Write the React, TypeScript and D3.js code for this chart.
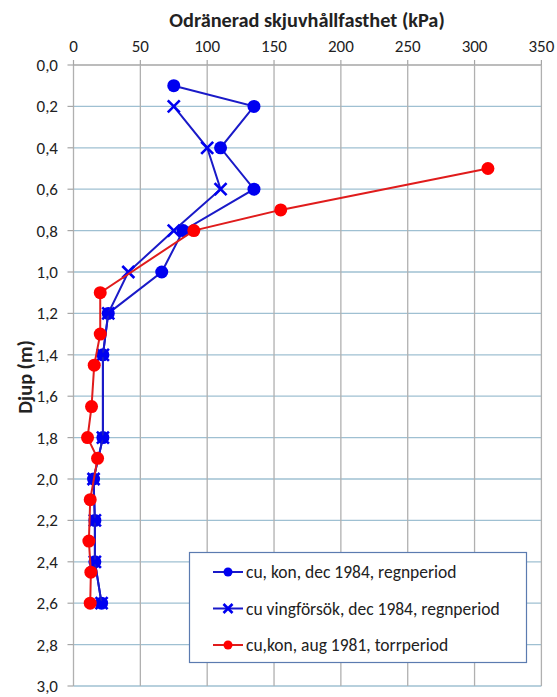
import React from "react";
import * as d3 from "d3";

const W = 557;
const H = 697;

const xTicks = [0, 50, 100, 150, 200, 250, 300, 350];
const yTicks = [0, 0.2, 0.4, 0.6, 0.8, 1.0, 1.2, 1.4, 1.6, 1.8, 2.0, 2.2, 2.4, 2.6, 2.8, 3.0];

// cu, kon, dec 1984, regnperiod
const konDepth = [0.1, 0.2, 0.4, 0.6, 0.8, 1.0, 1.2, 1.4, 1.8, 2.0, 2.2, 2.4, 2.6];
const konValue = [75, 135, 110, 135, 82, 66, 26, 22, 22, 15, 16, 16, 21];

// cu vingförsök, dec 1984, regnperiod
const vingDepth = [0.2, 0.4, 0.6, 0.8, 1.0, 1.2, 1.4, 1.8, 2.0, 2.2, 2.4, 2.6];
const vingValue = [75, 100, 110, 75, 41, 26, 22, 22, 15, 16, 16, 21];

// cu,kon, aug 1981, torrperiod
const augDepth = [0.5, 0.7, 0.8, 1.1, 1.3, 1.45, 1.65, 1.8, 1.9, 2.1, 2.3, 2.45, 2.6];
const augValue = [310, 155, 90, 20, 20, 15.5, 13.5, 10.5, 18, 12.5, 11.5, 13, 12.5];

const legendLabels = [
  "cu, kon, dec 1984, regnperiod",
  "cu vingförsök, dec 1984, regnperiod",
  "cu,kon, aug 1981, torrperiod",
];

const FONT = "Carlito, Lato, 'Open Sans', sans-serif";
const BLUE = "#0000f0";
const BLUE_LINE = "#1a1ac8";
const RED = "#ff0000";
const RED_LINE = "#e01c1c";

const x = d3.scaleLinear().domain([0, 350]).range([73.5, 541.4]);
const y = d3.scaleLinear().domain([0, 3]).range([65, 686]);

function XMark({ cx, cy, s = 6, color }: { cx: number; cy: number; s?: number; color: string }) {
  return (
    <g stroke={color} strokeWidth={2.6}>
      <line x1={cx - s} y1={cy - s} x2={cx + s} y2={cy + s} />
      <line x1={cx - s} y1={cy + s} x2={cx + s} y2={cy - s} />
    </g>
  );
}

export default function App() {
  const line = d3
    .line<[number, number]>()
    .x((d) => x(d[0]))
    .y((d) => y(d[1]));
  const kon = konValue.map((v, i) => [v, konDepth[i]] as [number, number]);
  const ving = vingValue.map((v, i) => [v, vingDepth[i]] as [number, number]);
  const aug = augValue.map((v, i) => [v, augDepth[i]] as [number, number]);

  const lx = 189.5, ly = 552.5, lw = 337, lh = 110;
  const rowY = [572, 608.5, 645];

  return (
    <svg
      width={W}
      height={H}
      style={{ position: "absolute", left: 0, top: 0, background: "#fff" }}
      fontFamily={FONT}
    >
      <rect width={W} height={H} fill="#fff" />
      {/* horizontal gridlines */}
      {yTicks.map((t) => (
        <line key={"h" + t} x1={x(0)} x2={x(350)} y1={y(t)} y2={y(t)} stroke={t === 0 ? "#a6a6a6" : "#9fc0d2"} strokeWidth={1.3} />
      ))}
      {/* vertical gridlines */}
      {xTicks.map((t) => (
        <line key={"v" + t} x1={x(t)} x2={x(t)} y1={y(0)} y2={y(3)} stroke="#b0b0b0" strokeWidth={1.3} />
      ))}
      {/* y ticks */}
      {yTicks.map((t) => (
        <g key={"yt" + t}>
          <line x1={x(0) - 6} x2={x(0)} y1={y(t)} y2={y(t)} stroke="#a6a6a6" strokeWidth={1.2} />
          <text x={58} y={y(t)} dy="0.35em" textAnchor="end" fontSize={17} fill="#222">
            {d3.format(".1f")(t).replace(".", ",")}
          </text>
        </g>
      ))}
      {/* x tick labels */}
      {xTicks.map((t) => (
        <g key={"xt" + t}>
          <line x1={x(t)} x2={x(t)} y1={y(0) - 5} y2={y(0)} stroke="#a6a6a6" strokeWidth={1.2} />
          <text x={x(t)} y={52} textAnchor="middle" fontSize={17} fill="#222">
            {t}
          </text>
        </g>
      ))}
      <text x={307} y={26.5} textAnchor="middle" fontSize={20.3} fontWeight="bold" fill="#222">
        Odränerad skjuvhållfasthet (kPa)
      </text>
      <text transform="translate(32,377) rotate(-90)" textAnchor="middle" fontSize={20.3} fontWeight="bold" fill="#222">
        Djup (m)
      </text>

      {/* series: kon dec 1984 */}
      <path d={line(kon) || ""} fill="none" stroke={BLUE_LINE} strokeWidth={2} />
      {kon.map((d, i) => (
        <circle key={"k" + i} cx={x(d[0])} cy={y(d[1])} r={6.5} fill={BLUE} />
      ))}
      {/* series: vingförsök */}
      <path d={line(ving) || ""} fill="none" stroke={BLUE_LINE} strokeWidth={2} />
      {ving.map((d, i) => (
        <XMark key={"v" + i} cx={x(d[0])} cy={y(d[1])} color={BLUE} />
      ))}
      {/* series: aug 1981 */}
      <path d={line(aug) || ""} fill="none" stroke={RED_LINE} strokeWidth={2} />
      {aug.map((d, i) => (
        <circle key={"a" + i} cx={x(d[0])} cy={y(d[1])} r={6.5} fill={RED} />
      ))}

      {/* legend */}
      <rect x={lx} y={ly} width={lw} height={lh} fill="#fff" stroke="#5b7bb0" strokeWidth={1.2} />
      {legendLabels.map((lab, i) => {
        const cy = rowY[i];
        const col = i === 2 ? RED : BLUE;
        const lcol = i === 2 ? RED_LINE : BLUE_LINE;
        return (
          <g key={"lg" + i}>
            <line x1={213} x2={243} y1={cy} y2={cy} stroke={lcol} strokeWidth={2} />
            {i === 1 ? (
              <XMark cx={228} cy={cy} s={4.5} color={col} />
            ) : (
              <circle cx={228} cy={cy} r={4.5} fill={col} />
            )}
            <text x={246} y={cy} dy="0.35em" fontSize={17.5} fill="#222">
              {lab}
            </text>
          </g>
        );
      })}
    </svg>
  );
}
